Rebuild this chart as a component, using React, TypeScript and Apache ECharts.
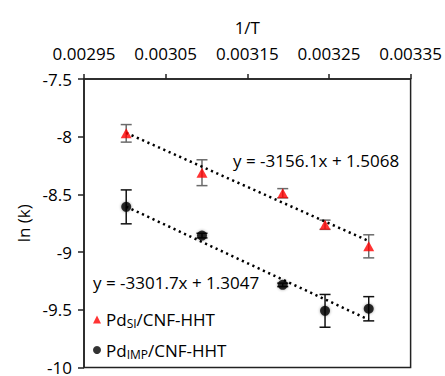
import React, { useEffect, useRef } from "react";
import * as echarts from "echarts";

// 1/T values (x)
const invT = [0.0030017, 0.0030945, 0.0031934, 0.0032452, 0.0032987];
// Pd_SI / CNF-HHT
const siLnK = [-7.971, -8.312, -8.49, -8.763, -8.95];
const siErr = [0.076, 0.112, 0.04, 0.04, 0.1];
// Pd_IMP / CNF-HHT
const impLnK = [-8.608, -8.857, -9.284, -9.509, -9.491];
const impErr = [0.147, 0.02, 0.015, 0.142, 0.105];
// trend-line end points
const siTrendY = [-7.967, -8.904];
const impTrendY = [-8.606, -9.586];
const siEquation = "y = -3156.1x + 1.5068";
const impEquation = "y = -3301.7x + 1.3047";
const seriesNames = ["Pd_SI/CNF-HHT", "Pd_IMP/CNF-HHT"];
const xTicks = { min: 0.00295, max: 0.00335, interval: 0.0001 };
const yTicks = { min: -10, max: -7.5, interval: 0.5 };

const FONT = "'Open Sans', 'Liberation Sans', sans-serif";
const INK = "#000";

function errorBarSeries(name: string, ys: number[], errs: number[], color: string) {
  return {
    type: "custom",
    name: name + "-err",
    z: 1,
    silent: true,
    data: invT.map((x, i) => [x, ys[i], errs[i]]),
    encode: { x: 0, y: 1 },
    renderItem: (params: any, api: any) => {
      const x = api.value(0);
      const y = api.value(1);
      const e = api.value(2);
      const hi = api.coord([x, y + e]);
      const lo = api.coord([x, y - e]);
      const w = 5.5;
      const style = { stroke: color, lineWidth: 1.5 };
      return {
        type: "group",
        children: [
          { type: "line", shape: { x1: hi[0], y1: hi[1], x2: lo[0], y2: lo[1] }, style },
          { type: "line", shape: { x1: hi[0] - w, y1: hi[1], x2: hi[0] + w, y2: hi[1] }, style },
          { type: "line", shape: { x1: lo[0] - w, y1: lo[1], x2: lo[0] + w, y2: lo[1] }, style },
        ],
      };
    },
  };
}

export default function App() {
  const ref = useRef<HTMLDivElement>(null);
  useEffect(() => {
    if (!ref.current) return;
    const chart = echarts.init(ref.current, undefined, { renderer: "svg" });
    const axisText = { color: INK, fontSize: 17, fontFamily: FONT };
    const option: any = {
      animation: false,
      backgroundColor: "#fff",
      textStyle: { fontFamily: FONT },
      grid: {
        left: 84,
        right: 33,
        top: 79,
        bottom: 5.5,
        show: true,
        borderColor: "#222",
        borderWidth: 1.5,
        backgroundColor: "transparent",
      },
      xAxis: {
        type: "value",
        position: "top",
        min: xTicks.min,
        max: xTicks.max,
        interval: xTicks.interval,
        name: "1/T",
        nameLocation: "middle",
        nameGap: 43,
        nameTextStyle: axisText,
        axisLine: { show: true, lineStyle: { color: "#222", width: 1.5 } },
        axisTick: { show: true, inside: false, length: 5, lineStyle: { color: "#222", width: 1.5 } },
        axisLabel: { ...axisText, margin: 17, formatter: (v: number) => v.toFixed(5) },
        splitLine: { show: false },
      },
      yAxis: {
        type: "value",
        min: yTicks.min,
        max: yTicks.max,
        interval: yTicks.interval,
        name: "ln (k)",
        nameLocation: "middle",
        nameRotate: 90,
        nameGap: 51,
        nameTextStyle: axisText,
        axisLine: { show: true, lineStyle: { color: "#222", width: 1.5 } },
        axisTick: { show: true, inside: false, length: 6, lineStyle: { color: "#222", width: 1.5 } },
        axisLabel: { ...axisText, margin: 12 },
        splitLine: { show: false },
      },
      legend: {
        orient: "vertical",
        left: 93,
        top: 311,
        padding: 0,
        itemGap: 12,
        itemWidth: 8,
        itemHeight: 8,
        data: [
          { name: seriesNames[0], icon: "triangle" },
          { name: seriesNames[1], icon: "circle" },
        ],
        formatter: (name: string) => {
          const [pd, rest] = name.split("/");
          const sub = pd.split("_")[1];
          return `{n|Pd}{s|${sub}}{n|/${rest}}`;
        },
        textStyle: {
          color: INK,
          fontFamily: FONT,
          fontSize: 17,
          rich: {
            n: { fontSize: 17, lineHeight: 20, fontFamily: FONT, color: INK, verticalAlign: "middle" },
            s: { fontSize: 12, lineHeight: 12, fontFamily: FONT, color: INK, verticalAlign: "bottom" },
          },
        },
      },
      graphic: [
        { type: "text", left: 233, top: 152, style: { text: siEquation, font: `17px ${FONT}`, fill: INK } },
        { type: "text", left: 93, top: 274, style: { text: impEquation, font: `17px ${FONT}`, fill: INK } },
      ],
      series: [
        {
          type: "line",
          name: "si-trend",
          data: [
            [invT[0], siTrendY[0]],
            [invT[invT.length - 1], siTrendY[1]],
          ],
          showSymbol: false,
          symbol: "none",
          z: 2,
          lineStyle: { color: "#000", width: 2.5, type: [2.2, 3.6] },
          silent: true,
        },
        {
          type: "line",
          name: "imp-trend",
          data: [
            [invT[0], impTrendY[0]],
            [invT[invT.length - 1], impTrendY[1]],
          ],
          showSymbol: false,
          symbol: "none",
          z: 2,
          lineStyle: { color: "#000", width: 2.5, type: [2.2, 3.6] },
          silent: true,
        },
        errorBarSeries(seriesNames[0], siLnK, siErr, "#6b6b6b"),
        errorBarSeries(seriesNames[1], impLnK, impErr, "#111"),
        {
          type: "scatter",
          name: seriesNames[0],
          symbol: "triangle",
          symbolSize: [11, 10],
          z: 3,
          itemStyle: { color: "#ff0000" },
          data: invT.map((x, i) => [x, siLnK[i]]),
        },
        {
          type: "scatter",
          name: seriesNames[1],
          symbol: "circle",
          symbolSize: 10,
          z: 3,
          itemStyle: { color: "#000", shadowBlur: 3, shadowColor: "rgba(0,0,0,0.45)" },
          data: invT.map((x, i) => [x, impLnK[i]]),
        },
      ],
    };
    chart.setOption(option);
    return () => chart.dispose();
  }, []);
  return (
    <div
      ref={ref}
      style={{ position: "absolute", left: 0, top: 0, width: 445, height: 376, background: "#fff" }}
    />
  );
}
